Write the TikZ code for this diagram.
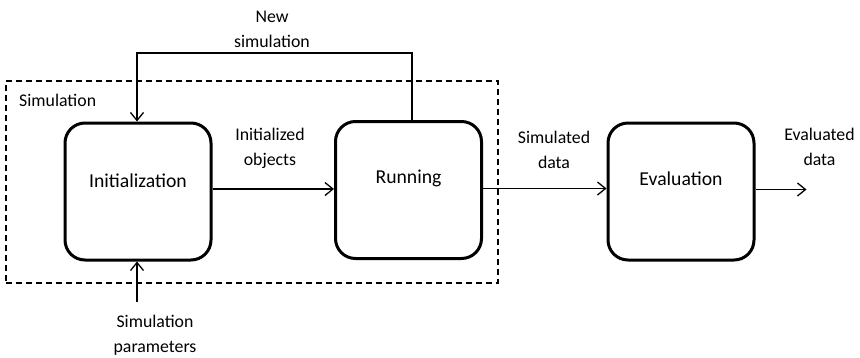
\documentclass[tikz,border=0pt]{standalone}
\usepackage{fontspec}
\setmainfont{Carlito}
\usetikzlibrary{arrows.meta}

\begin{document}
\begin{tikzpicture}[x=1pt,y=-1pt,
  stage/.style={draw, line width=3pt, rounded corners=20pt,
    minimum width=146pt, minimum height=137pt, inner sep=0pt,
    font=\fontsize{19.7}{24}\selectfont, text height=13pt, text depth=22pt},
  flow/.style={line width=1.3pt,
    -{Straight Barb[length=8pt,width=13pt,line width=1.3pt]}},
  note/.style={align=center, inner sep=0pt,
    font=\fontsize{17.8}{25}\selectfont},
  groupbox/.style={draw, line width=1.3pt, dash pattern=on 6pt off 4pt,
    minimum width=492pt, minimum height=202pt, inner sep=0pt}
]
\useasboundingbox (0,0) rectangle (860,357);

% simulation group (dashed frame)
\node[groupbox] (simbox) at (252,182) {};
\node[note, anchor=base west] (simlabel) at (19,106) {Simulation};

% process stages
\node[stage] (init) at (138,191.5) {Initialization};
\node[stage, text depth=26pt] (run) at (408.5,190) {Running};
\node[stage, text depth=25pt] (eval) at (681,191.5) {Evaluation};

% free ends of connectors
\coordinate (fb) at (412,53);
\coordinate (par) at (137,302);

% connectors
\draw[flow] ([yshift=2.5pt]init.east) -- ([yshift=2.5pt]init.east -| run.west);
\draw[flow] ([yshift=1.5pt]run.east) -- ([yshift=1.5pt]run.east -| eval.west);
\draw[flow] ([yshift=2pt]eval.east) -- ++(51,0) coordinate (out);
\draw[flow] (run.north -| fb) -- (fb) -| ([xshift=-1pt]init.north);
\draw[flow] (par) -- ([xshift=-1pt]init.south);

% connector labels
\node[note] (newsim) at (272,29) {New\\simulation};
\node[note] (initobj) at (270,148) {Initialized\\objects};
\node[note] (simdata) at (554,150) {Simulated\\data};
\node[note] (evaldata) at (819.5,147) {Evaluated\\data};
\node[note] (params) at (155,335.5) {Simulation\\parameters};
\end{tikzpicture}
\end{document}
